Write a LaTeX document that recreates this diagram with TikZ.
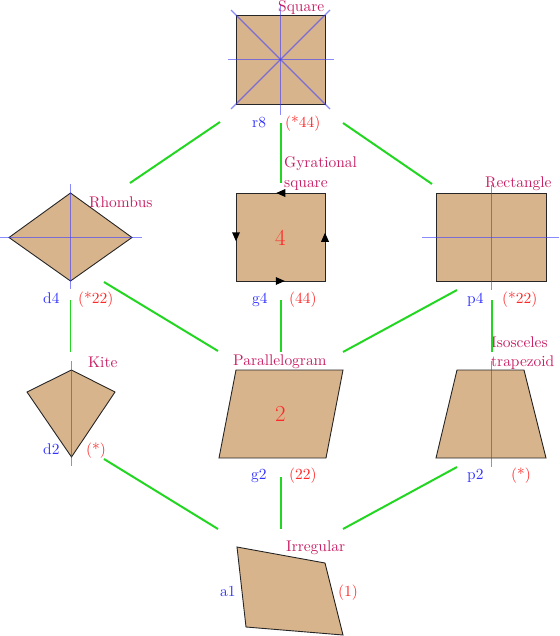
\documentclass[tikz,border=0pt]{standalone}
\usepackage{graphicx}
\usetikzlibrary{decorations.markings}
\definecolor{shapefill}{RGB}{216,180,140}
\definecolor{linkgreen}{RGB}{34,214,34}
\definecolor{namecol}{RGB}{200,30,100}
\definecolor{symred}{RGB}{255,40,40}
\definecolor{symblue}{RGB}{50,50,255}
\definecolor{axisblue}{RGB}{60,60,255}
\newcommand{\bigt}[1]{\scalebox{1.55}{#1}}
\newcommand{\twoline}[2]{\scalebox{1.55}{\begin{tabular}[t]{@{}l@{}}#1\\[0.9pt]#2\end{tabular}}}
\begin{document}
\begin{tikzpicture}[x=1bp,y=-1bp,
  shp/.style={fill=shapefill,draw=black!85,line width=0.9pt},
  axis/.style={draw=axisblue,line width=1.2pt,opacity=0.6},
  link/.style={draw=linkgreen,line width=2pt},
  txt/.style={anchor=base west,inner sep=0pt,font=\fontsize{10}{12}\selectfont},
  lbl/.style={txt,text=namecol},
  gname/.style={txt,text=symblue},
  orb/.style={txt,text=symred},
  big/.style={text=symred,inner sep=0pt,font=\fontsize{23}{26}\selectfont},
  gyr/.style={postaction={decorate},decoration={markings,
    mark=at position 0.125 with {\fill[black] (4.5,0) -- (-4.5,4) -- (-4.5,-4) -- cycle;},
    mark=at position 0.375 with {\fill[black] (4.5,0) -- (-4.5,4) -- (-4.5,-4) -- cycle;},
    mark=at position 0.625 with {\fill[black] (4.5,0) -- (-4.5,4) -- (-4.5,-4) -- cycle;},
    mark=at position 0.875 with {\fill[black] (4.5,0) -- (-4.5,4) -- (-4.5,-4) -- cycle;}}}]
\useasboundingbox (0,0) rectangle (560,636);

% ---------- shapes ----------
% Square r8
\draw[shp] (236,15) rectangle (325,104);
\draw[axis] (280.5,4) -- (280.5,115);
\draw[axis] (228,59.5) -- (334,59.5);
\draw[axis] (231,10) -- (330,109);
\draw[axis] (330,10) -- (231,109);
% Rhombus d4
\draw[shp] (9,237.5) -- (70.5,193) -- (132,237.5) -- (70.5,281) -- cycle;
\draw[axis] (70.5,184) -- (70.5,289);
\draw[axis] (0,237.5) -- (142,237.5);
% Gyrational square g4
\draw[shp,gyr] (325,193) -- (236,193) -- (236,281) -- (325,281) -- cycle;
\node[big] (n4) at (280.5,238) {4};
% Rectangle p4
\draw[shp] (436,193) rectangle (546,281);
\draw[axis] (491.5,185) -- (491.5,290);
\draw[axis] (422,237.5) -- (559,237.5);
% Kite d2
\draw[shp] (71.5,370) -- (115,392) -- (71.5,457) -- (27,392) -- cycle;
\draw[axis] (71.5,361) -- (71.5,466);
% Parallelogram g2
\draw[shp] (236,370) -- (343,370) -- (326,458) -- (219,458) -- cycle;
\node[big] (n2) at (280.5,414) {2};
% Isosceles trapezoid p2
\draw[shp] (457,370) -- (524,370) -- (546,458) -- (436,458) -- cycle;
\draw[axis] (491.5,361) -- (491.5,467);
% Irregular a1
\draw[shp] (237,547) -- (325,563) -- (343,635) -- (246,627) -- cycle;

% ---------- names ----------
\node[lbl] (lsq) at (278,12) {\bigt{Square}};
\node[lbl] (lrh) at (89,207) {\bigt{Rhombus}};
\node[lbl] (lgy) at (284,168) {\twoline{Gyrational}{square}};
\node[lbl] (lre) at (485,188) {\bigt{Rectangle}};
\node[lbl] (lki) at (88,367) {\bigt{Kite}};
\node[lbl] (lpa) at (233,365) {\bigt{Parallelogram}};
\node[lbl] (ltr) at (491,347) {\twoline{Isosceles}{trapezoid}};
\node[lbl] (lir) at (286,551) {\bigt{Irregular}};

% ---------- symmetry notations ----------
\node[gname] (r8) at (252,128) {\bigt{r8}};
\node[orb]   (o8) at (285,128) {\bigt{(*44)}};
\node[gname] (d4) at (43,303) {\bigt{d4}};
\node[orb]   (od4) at (78,303) {\bigt{(*22)}};
\node[gname] (g4) at (252,303) {\bigt{g4}};
\node[orb]   (og4) at (289,303) {\bigt{(44)}};
\node[gname] (p4) at (467,303) {\bigt{p4}};
\node[orb]   (op4) at (502,303) {\bigt{(*22)}};
\node[gname] (d2) at (43,454) {\bigt{d2}};
\node[orb]   (od2) at (86,454) {\bigt{(*)}};
\node[gname] (g2) at (251,479) {\bigt{g2}};
\node[orb]   (og2) at (289,479) {\bigt{(22)}};
\node[gname] (p2) at (467,479) {\bigt{p2}};
\node[orb]   (op2) at (511,479) {\bigt{(*)}};
\node[gname] (a1) at (220,596) {\bigt{a1}};
\node[orb]   (oa1) at (338,596) {\bigt{(1)}};

% ---------- connector ends ----------
\coordinate (sqL) at (220,122);
\coordinate (sqM) at (280.5,123);
\coordinate (sqR) at (343,123);
\coordinate (rhT) at (130,183);
\coordinate (gyT) at (280.5,183);
\coordinate (reT) at (432,184);
\coordinate (rhB) at (70.5,300);
\coordinate (rhBR) at (104,282);
\coordinate (gyB) at (280.5,300);
\coordinate (reBL) at (457,290);
\coordinate (reB) at (491.5,300);
\coordinate (kiT) at (70.5,352);
\coordinate (paTL) at (218,351);
\coordinate (paT) at (280.5,352);
\coordinate (paTR) at (343,352);
\coordinate (trT) at (491.5,352);
\coordinate (kiBR) at (104,459);
\coordinate (paB) at (280.5,477);
\coordinate (trBL) at (457,467);
\coordinate (irTL) at (218,529);
\coordinate (irT) at (280.5,529);
\coordinate (irTR) at (343,529);

% ---------- connectors ----------
\draw[link] (sqL) -- (rhT);
\draw[link] (sqM) -- (gyT);
\draw[link] (sqR) -- (reT);
\draw[link] (rhB) -- (kiT);
\draw[link] (rhBR) -- (paTL);
\draw[link] (gyB) -- (paT);
\draw[link] (reBL) -- (paTR);
\draw[link] (reB) -- (trT);
\draw[link] (kiBR) -- (irTL);
\draw[link] (paB) -- (irT);
\draw[link] (trBL) -- (irTR);
\end{tikzpicture}
\end{document}
